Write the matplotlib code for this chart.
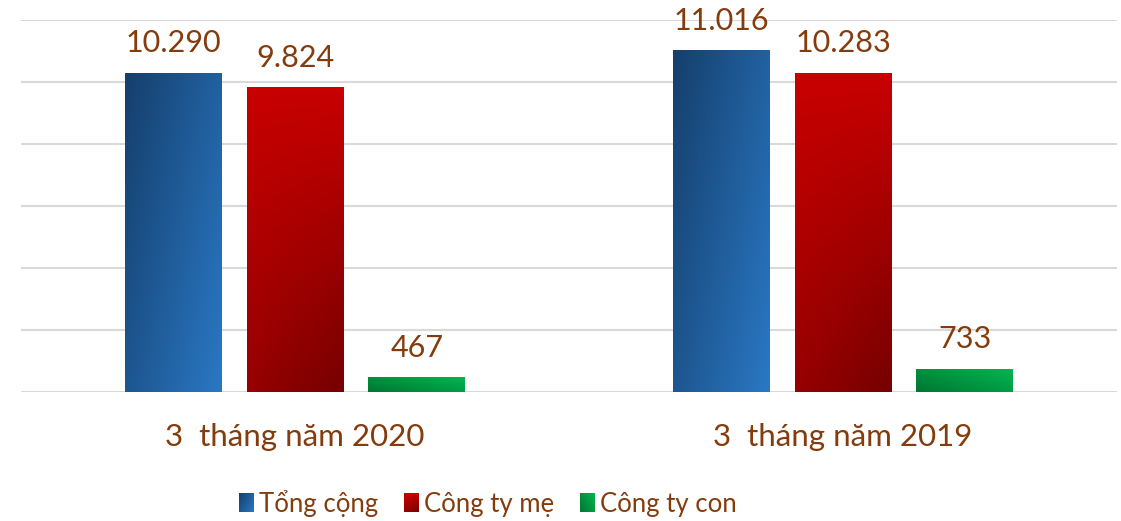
import numpy as np
import matplotlib
matplotlib.use("Agg")
import matplotlib.pyplot as plt
from matplotlib.image import BboxImage
from matplotlib.legend_handler import HandlerBase
from matplotlib.patches import Rectangle
from matplotlib.transforms import Bbox, TransformedBbox

plt.rcParams["font.family"] = ["Lato", "Noto Sans", "DejaVu Sans"]

categories = ["3  tháng năm 2020", "3  tháng năm 2019"]
series_names = ["Tổng cộng", "Công ty mẹ", "Công ty con"]
tong_cong = [10290, 11016]
cong_ty_me = [9824, 10283]
cong_ty_con = [467, 733]
value_labels = [["10.290", "11.016"], ["9.824", "10.283"], ["467", "733"]]

TEXT = "#843C0C"
GRID = "#d9d9d9"

# gradient end colours per series (start, end)
GRADS = {
    "blue": ("#153f6c", "#2a78c4"),
    "red": ("#c80000", "#760000"),
    "green": ("#007632", "#00b650"),
}


def grad_array(kind, n=64):
    u, v = np.meshgrid(np.linspace(0, 1, n), np.linspace(0, 1, n))
    if kind == "blue":
        t = 0.6 * u + 0.4 * (1 - v)
    elif kind == "red":
        t = (1 - v) * (0.6 + 0.4 * u)
    else:
        t = 0.6 * u + 0.4 * v
    c0 = np.array(matplotlib.colors.to_rgb(GRADS[kind][0]))
    c1 = np.array(matplotlib.colors.to_rgb(GRADS[kind][1]))
    return c0 + t[..., None] * (c1 - c0)


class GradHandler(HandlerBase):
    def __init__(self, kind):
        super().__init__()
        self.kind = kind

    def create_artists(self, legend, orig_handle, xdescent, ydescent,
                       width, height, fontsize, trans):
        bb = Bbox.from_bounds(-xdescent, -ydescent, width, height)
        im = BboxImage(TransformedBbox(bb, trans), origin="lower",
                       interpolation="bilinear")
        im.set_data(grad_array(self.kind))
        return [im]


fig = plt.figure(figsize=(11.21, 5.21), dpi=100)
ax = fig.add_axes([21 / 1121, 129 / 521, 1096 / 1121, 372 / 521])

x = np.arange(len(categories))
width = 0.177
step = 0.2226
kinds = ["blue", "red", "green"]
values = [tong_cong, cong_ty_me, cong_ty_con]

for i, (vals, kind) in enumerate(zip(values, kinds)):
    bars = ax.bar(x + (i - 1) * step, vals, width, facecolor="none",
                  edgecolor="none", zorder=3)
    for b, lab in zip(bars, value_labels[i]):
        ax.imshow(grad_array(kind), extent=(b.get_x(), b.get_x() + b.get_width(), 0, b.get_height()),
                  origin="lower", aspect="auto", interpolation="bilinear", zorder=3)
        ax.annotate(lab, (b.get_x() + b.get_width() / 2, b.get_height()),
                    xytext=(0, 15), textcoords="offset points", ha="center",
                    va="baseline", fontsize=22, color=TEXT)

ax.set_xlim(-0.5, 1.5)
ax.set_ylim(0, 12000)
ax.set_yticks(np.arange(0, 12001, 2000))
ax.yaxis.grid(True, color=GRID, linewidth=1.5)
ax.set_axisbelow(True)
ax.tick_params(left=False, bottom=False, labelleft=False)
ax.set_xticks(x)
ax.set_xticklabels(categories, fontsize=22.5, color=TEXT)
ax.tick_params(axis="x", pad=19)
for s in ax.spines.values():
    s.set_visible(False)

proxies = [Rectangle((0, 0), 1, 1) for _ in kinds]
fig.legend(proxies, series_names, loc="center", bbox_to_anchor=(487.5 / 1121, 0.0345),
           ncol=3, frameon=False, fontsize=18.5, labelcolor=TEXT,
           handlelength=0.58, handleheight=0.74, handletextpad=0.2,
           columnspacing=1.0,
           handler_map={p: GradHandler(k) for p, k in zip(proxies, kinds)})

fig.savefig("out.png", dpi=100)
